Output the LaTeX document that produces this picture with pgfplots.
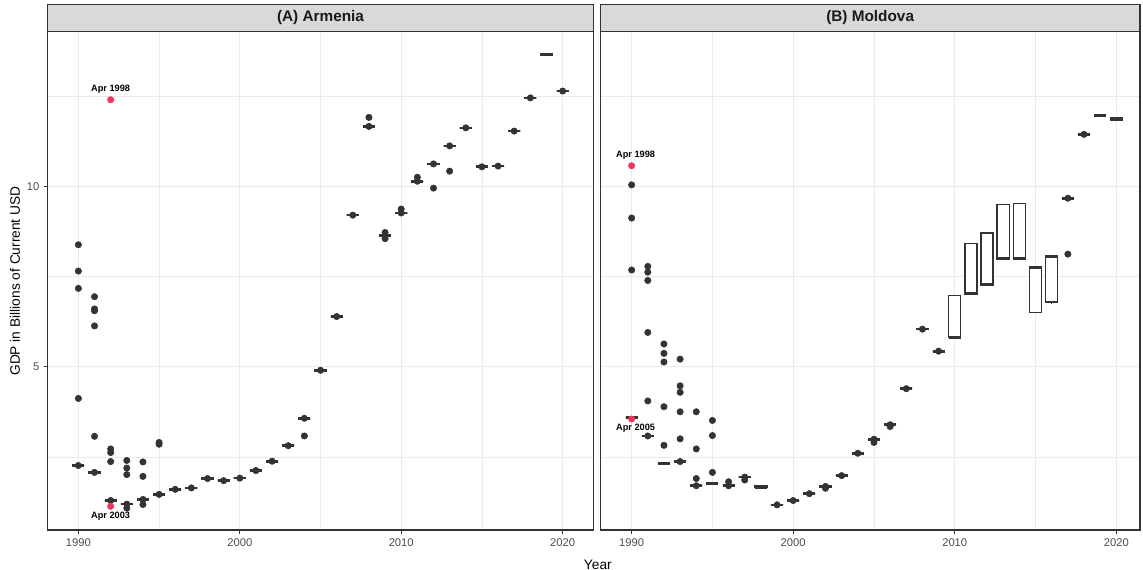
\documentclass[border=0pt]{standalone}
\usepackage{pgfplots}
\pgfplotsset{compat=1.18}
\usepackage{pgfplotstable}
\usepgfplotslibrary{statistics}
\usepackage{fontspec}
\setmainfont{Liberation Sans}
\definecolor{g20}{HTML}{333333}
\definecolor{g30}{HTML}{4D4D4D}
\definecolor{g92}{HTML}{EBEBEB}
\definecolor{g85}{HTML}{D9D9D9}
\definecolor{g10}{HTML}{1A1A1A}
\definecolor{hot}{HTML}{F2355B}

% Armenia: yearly boxes
\pgfplotstableread{
yr lw lq med uq uw
1990 2.26 2.26 2.26 2.26 2.26
1991 2.07 2.07 2.07 2.07 2.07
1992 1.29 1.29 1.29 1.29 1.29
1993 1.19 1.19 1.19 1.19 1.19
1994 1.32 1.32 1.32 1.32 1.32
1995 1.46 1.46 1.46 1.46 1.46
1996 1.60 1.60 1.60 1.60 1.60
1997 1.64 1.64 1.64 1.64 1.64
1998 1.90 1.90 1.90 1.90 1.90
1999 1.84 1.84 1.84 1.84 1.84
2000 1.91 1.91 1.91 1.91 1.91
2001 2.12 2.12 2.12 2.12 2.12
2002 2.38 2.38 2.38 2.38 2.38
2003 2.81 2.81 2.81 2.81 2.81
2004 3.57 3.57 3.57 3.57 3.57
2005 4.90 4.90 4.90 4.90 4.90
2006 6.39 6.39 6.39 6.39 6.39
2007 9.20 9.20 9.20 9.20 9.20
2008 11.66 11.66 11.66 11.66 11.66
2009 8.64 8.64 8.64 8.64 8.64
2010 9.26 9.26 9.26 9.26 9.26
2011 10.14 10.14 10.14 10.14 10.14
2012 10.62 10.62 10.62 10.62 10.62
2013 11.12 11.12 11.12 11.12 11.12
2014 11.62 11.62 11.62 11.62 11.62
2015 10.54 10.54 10.54 10.54 10.54
2016 10.56 10.56 10.56 10.56 10.56
2017 11.53 11.53 11.53 11.53 11.53
2018 12.45 12.45 12.45 12.45 12.45
2019 13.62 13.62 13.66 13.69 13.69
2020 12.64 12.64 12.64 12.64 12.64
}\arm

% Moldova: yearly boxes
\pgfplotstableread{
yr lw lq med uq uw
1990 3.60 3.60 3.60 3.60 3.60
1991 3.08 3.08 3.08 3.08 3.08
1992 2.32 2.32 2.32 2.32 2.32
1993 2.37 2.37 2.37 2.37 2.37
1994 1.70 1.70 1.70 1.70 1.70
1995 1.76 1.76 1.76 1.76 1.76
1996 1.70 1.70 1.70 1.70 1.70
1997 1.94 1.94 1.94 1.94 1.94
1998 1.645 1.645 1.66 1.695 1.695
1999 1.17 1.17 1.17 1.17 1.17
2000 1.29 1.29 1.29 1.29 1.29
2001 1.48 1.48 1.48 1.48 1.48
2002 1.68 1.68 1.68 1.68 1.68
2003 1.98 1.98 1.98 1.98 1.98
2004 2.60 2.60 2.60 2.60 2.60
2005 2.99 2.99 2.99 2.99 2.99
2006 3.39 3.39 3.39 3.39 3.39
2007 4.39 4.39 4.39 4.39 4.39
2008 6.04 6.04 6.04 6.04 6.04
2009 5.43 5.43 5.43 5.43 5.43
2010 5.80 5.80 5.81 6.97 6.97
2011 7.01 7.01 7.02 8.41 8.41
2012 7.26 7.26 7.27 8.71 8.71
2013 7.98 7.98 7.99 9.50 9.50
2014 7.98 7.98 7.99 9.52 9.52
2015 6.51 6.51 7.74 7.76 7.76
2016 6.75 6.79 8.04 8.07 8.07
2017 9.67 9.67 9.67 9.67 9.67
2018 11.44 11.44 11.44 11.44 11.44
2019 11.97 11.97 11.97 11.97 11.97
2020 11.84 11.84 11.87 11.90 11.90
}\mol

% outlying vintages
\pgfplotstableread{
yr v
1990 8.38
1990 7.65
1990 7.17
1990 4.12
1990 2.26
1991 6.94
1991 6.60
1991 6.55
1991 6.13
1991 3.07
1991 2.07
1992 2.72
1992 2.62
1992 2.37
1992 1.29
1993 2.40
1993 2.19
1993 2.01
1993 1.19
1993 1.08
1994 2.36
1994 1.96
1994 1.32
1994 1.18
1995 2.90
1995 2.85
1995 1.46
1996 1.60
1997 1.64
1998 1.90
1999 1.84
2000 1.91
2001 2.12
2002 2.38
2003 2.81
2004 3.57
2004 3.08
2005 4.90
2006 6.39
2007 9.20
2008 11.91
2008 11.66
2009 8.72
2009 8.64
2009 8.55
2010 9.37
2010 9.26
2011 10.25
2011 10.14
2012 10.62
2012 9.95
2013 11.12
2013 10.42
2014 11.62
2015 10.54
2016 10.56
2017 11.53
2018 12.45
2020 12.64
}\armout

\pgfplotstableread{
yr v
1990 10.04
1990 9.12
1990 7.68
1991 7.78
1991 7.62
1991 7.39
1991 5.95
1991 4.05
1991 3.08
1992 5.63
1992 5.37
1992 5.13
1992 3.89
1992 2.82
1993 5.21
1993 4.47
1993 4.29
1993 3.75
1993 3.00
1993 2.37
1994 3.75
1994 2.72
1994 1.90
1994 1.70
1995 3.51
1995 3.09
1995 2.07
1996 1.81
1996 1.70
1997 1.94
1997 1.86
1999 1.17
2000 1.29
2001 1.48
2002 1.68
2002 1.63
2003 1.98
2004 2.60
2005 2.99
2005 2.90
2006 3.39
2006 3.34
2007 4.39
2008 6.04
2009 5.43
2017 9.67
2017 8.12
2018 11.44
}\molout

\pgfplotsset{
  panel/.style={
    scale only axis, height=374pt,
    ymin=0.474, ymax=14.296,
    xtick={1990,2000,2010,2020}, xticklabels={1990,2000,2010,2020},
    minor xtick={1995,2005,2015},
    ytick={5,10}, minor ytick={2.5,7.5,12.5},
    grid=both,
    major grid style={draw=g92, line width=0.6pt},
    minor grid style={draw=g92, line width=0.35pt},
    axis line style={draw=g20, line width=0.9pt},
    tick align=outside, major tick length=2.75pt, minor tick length=0pt,
    xtick pos=left, ytick pos=left,
    tick style={draw=g20, line width=0.75pt},
    ticklabel style={font=\fontsize{8.4}{10}\selectfont, text=g30},
    /pgf/number format/assume math mode=true,
    clip=false,
    boxplot/draw direction=y,
    boxplot/box extend=0.75,
    boxplot/whisker extend=0,
    boxplot/every median/.style={line width=2pt},
  },
  outl/.style={only marks, mark=*, mark size=2.4pt, color=g20, mark options={draw=none, fill=g20}},
  hotpt/.style={only marks, mark=*, mark size=2.4pt, color=hot, mark options={draw=none, fill=hot},
    point meta=explicit symbolic, nodes near coords,
    nodes near coords style={text=black, font=\bfseries\fontsize{6.9}{8}\selectfont, anchor=center, inner sep=0pt}},
}

% one box per table row: values taken from the table
\newcommand{\boxrow}[2]{%
  \pgfplotstablegetelem{#2}{yr}\of#1\let\BYR\pgfplotsretval
  \pgfplotstablegetelem{#2}{lw}\of#1\let\BLW\pgfplotsretval
  \pgfplotstablegetelem{#2}{lq}\of#1\let\BLQ\pgfplotsretval
  \pgfplotstablegetelem{#2}{med}\of#1\let\BMD\pgfplotsretval
  \pgfplotstablegetelem{#2}{uq}\of#1\let\BUQ\pgfplotsretval
  \pgfplotstablegetelem{#2}{uw}\of#1\let\BUW\pgfplotsretval
  \edef\doplot{\noexpand\addplot[draw=g20, fill=white, line width=1pt,
    boxplot prepared={draw position=\BYR, lower whisker=\BLW, lower quartile=\BLQ,
      median=\BMD, upper quartile=\BUQ, upper whisker=\BUW}] coordinates {};}%
  \doplot
}

\begin{document}
\begin{tikzpicture}
\useasboundingbox (0,0) rectangle (857.25pt,-427.5pt);

% (A) Armenia
\begin{axis}[panel, at={(35.78pt,-23.48pt)}, anchor=north west, width=409.2pt,
  xmin=1988.10, xmax=2021.90, yticklabels={5,10}]
\pgfplotsinvokeforeach{0,...,30}{\boxrow{\arm}{#1}}
\addplot[outl] table[x=yr, y=v] {\armout};
\addplot[hotpt, nodes near coords style={yshift=7.5pt}] coordinates {(1992,12.40) [Apr 1998]};
\addplot[hotpt, nodes near coords style={yshift=-7.3pt}] coordinates {(1992,1.13) [Apr 2003]};
\draw[fill=g85, draw=g20, line width=0.9pt] (rel axis cs:0,1) rectangle ([yshift=19.95pt]rel axis cs:1,1);
\node[font=\bfseries\fontsize{11.5}{13}\selectfont, text=g10] at ([yshift=9.97pt]rel axis cs:0.5,1) {(A) Armenia};
\end{axis}

% (B) Moldova
\begin{axis}[panel, at={(450.23pt,-23.48pt)}, anchor=north west, width=404.8pt,
  xmin=1988.06, xmax=2021.47, yticklabels={}, ytick style={draw=none}]
\pgfplotsinvokeforeach{0,...,30}{\boxrow{\mol}{#1}}
\addplot[outl] table[x=yr, y=v] {\molout};
\addplot[hotpt, nodes near coords style={xshift=3pt, yshift=7.5pt}] coordinates {(1990,10.57) [Apr 1998]};
\addplot[hotpt, nodes near coords style={xshift=3pt, yshift=-7.3pt}] coordinates {(1990,3.55) [Apr 2005]};
\draw[fill=g85, draw=g20, line width=0.9pt] (rel axis cs:0,1) rectangle ([yshift=19.95pt]rel axis cs:1,1);
\node[font=\bfseries\fontsize{11.5}{13}\selectfont, text=g10] at ([yshift=9.97pt]rel axis cs:0.5,1) {(B) Moldova};
\end{axis}

\node[font=\fontsize{10.3}{12}\selectfont, rotate=90] at (11.25pt,-210.75pt) {GDP in Billions of Current USD};
\node[font=\fontsize{10.3}{12}\selectfont, anchor=base] at (448.4pt,-426.8pt) {Year};
\end{tikzpicture}
\end{document}
